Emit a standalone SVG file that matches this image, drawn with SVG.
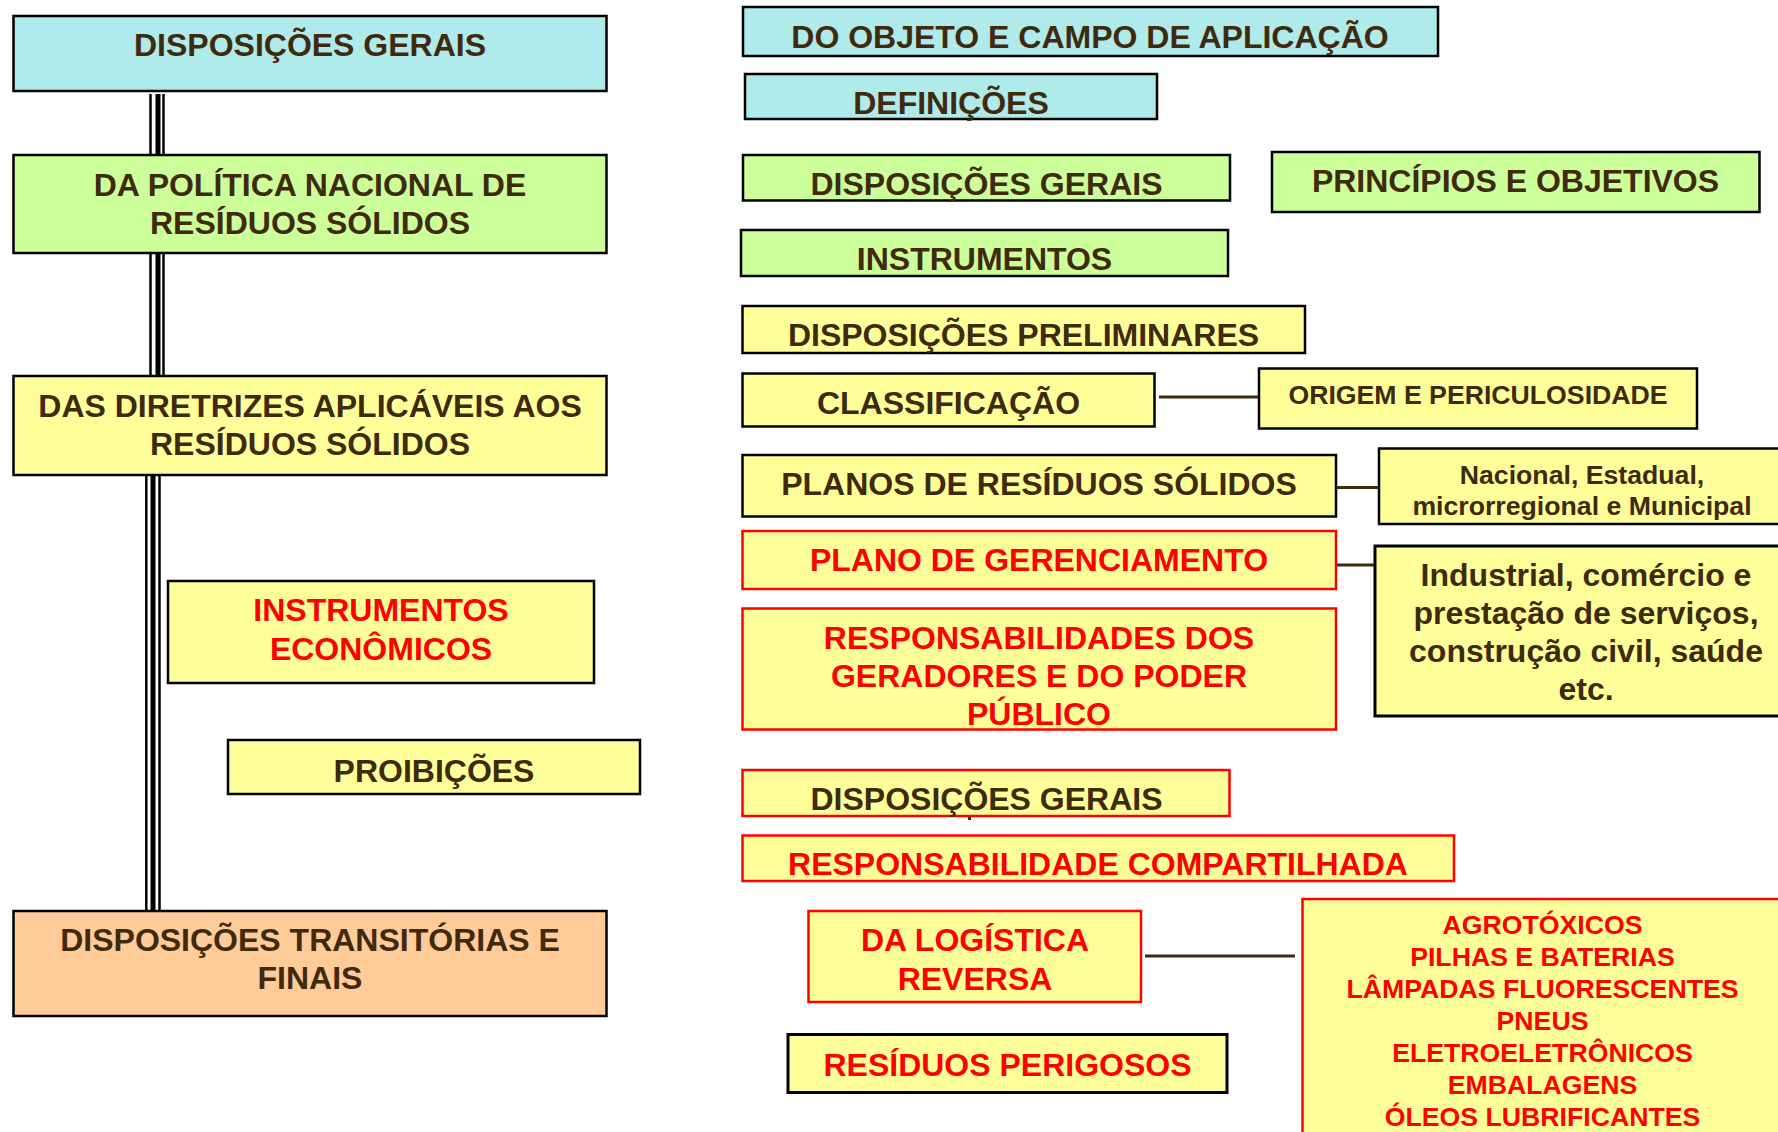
<svg xmlns="http://www.w3.org/2000/svg" width="1778" height="1132" viewBox="0 0 1778 1132">
<style>
  text { font-family: "Liberation Sans", Arial, sans-serif; font-weight: bold; font-size: 32px; text-anchor: middle; fill: #3F2A0E; }
  text.red { fill: #FF0000; }
  text.sm { font-size: 26.67px; }
  rect.box { stroke: #000000; stroke-width: 2.5; }
  rect.rb { stroke: #FF0000; }
  .cyan { fill: #B0EBEB; }
  .green { fill: #CCFF99; }
  .yellow { fill: #FFFF99; }
  .orange { fill: #FFCC99; }
  .conn { stroke: #3F2A0E; stroke-width: 3; fill: none; }
  .tl { stroke: #000000; fill: none; }
</style>
<rect x="0" y="0" width="1778" height="1132" style="fill:#FFFFFF;stroke:none"/>

<g id="connectors">
  <g id="triple-a-b">
    <line class="tl" x1="150.5" y1="94" x2="150.5" y2="155" stroke-width="2.5"/>
    <line class="tl" x1="158" y1="94" x2="158" y2="155" stroke-width="5"/>
    <line class="tl" x1="163.5" y1="94" x2="163.5" y2="155" stroke-width="2.5"/>
  </g>
  <g id="triple-b-c">
    <line class="tl" x1="150.5" y1="253" x2="150.5" y2="376" stroke-width="2.5"/>
    <line class="tl" x1="158" y1="253" x2="158" y2="376" stroke-width="5"/>
    <line class="tl" x1="163.5" y1="253" x2="163.5" y2="376" stroke-width="2.5"/>
  </g>
  <g id="triple-c-d">
    <line class="tl" x1="146.3" y1="475" x2="146.3" y2="911" stroke-width="2.5"/>
    <line class="tl" x1="153" y1="475" x2="153" y2="911" stroke-width="5"/>
    <line class="tl" x1="159.5" y1="475" x2="159.5" y2="911" stroke-width="2.5"/>
  </g>
  <line class="conn" x1="1159" y1="397" x2="1259" y2="397" stroke-width="2.5"/>
  <line class="conn" x1="1336" y1="487.5" x2="1379" y2="487.5"/>
  <line class="conn" x1="1333" y1="565" x2="1375" y2="565"/>
  <line class="conn" x1="1145" y1="956" x2="1295" y2="956"/>
  <line class="conn" x1="969.5" y1="812" x2="969.5" y2="820" stroke-width="1.5"/>
</g>

<g id="n-disposicoes-gerais">
  <rect class="box cyan" x="13.5" y="16" width="593" height="75"/>
  <text x="310" y="56">DISPOSIÇÕES GERAIS</text>
</g>
<g id="n-politica-nacional">
  <rect class="box green" x="13.5" y="155" width="593" height="98"/>
  <text x="310" y="196">DA POLÍTICA NACIONAL DE</text>
  <text x="310" y="234">RESÍDUOS SÓLIDOS</text>
</g>
<g id="n-diretrizes">
  <rect class="box yellow" x="13.5" y="376" width="593" height="99"/>
  <text x="310" y="417">DAS DIRETRIZES APLICÁVEIS AOS</text>
  <text x="310" y="455">RESÍDUOS SÓLIDOS</text>
</g>
<g id="n-instrumentos-economicos">
  <rect class="box yellow" x="168" y="581" width="426" height="102"/>
  <text class="red" x="381" y="621">INSTRUMENTOS</text>
  <text class="red" x="381" y="660">ECONÔMICOS</text>
</g>
<g id="n-proibicoes">
  <rect class="box yellow" x="228" y="740" width="412" height="54"/>
  <text x="434" y="782">PROIBIÇÕES</text>
</g>
<g id="n-transitorias">
  <rect class="box orange" x="13.5" y="911" width="593" height="105"/>
  <text x="310" y="951">DISPOSIÇÕES TRANSITÓRIAS E</text>
  <text x="310" y="989">FINAIS</text>
</g>

<g id="n-objeto">
  <rect class="box cyan" x="743" y="7" width="695" height="49"/>
  <text x="1090" y="48">DO OBJETO E CAMPO DE APLICAÇÃO</text>
</g>
<g id="n-definicoes">
  <rect class="box cyan" x="745" y="74" width="412" height="45"/>
  <text x="951" y="113.5">DEFINIÇÕES</text>
</g>
<g id="n-disp-gerais-2">
  <rect class="box green" x="743" y="155" width="487" height="45.5"/>
  <text x="986.5" y="195">DISPOSIÇÕES GERAIS</text>
</g>
<g id="n-principios">
  <rect class="box green" x="1272" y="152" width="487.5" height="60"/>
  <text x="1515.5" y="192">PRINCÍPIOS E OBJETIVOS</text>
</g>
<g id="n-instrumentos">
  <rect class="box green" x="741" y="230" width="487" height="46"/>
  <text x="984.5" y="270">INSTRUMENTOS</text>
</g>
<g id="n-preliminares">
  <rect class="box yellow" x="742.5" y="306" width="562.5" height="47"/>
  <text x="1023.5" y="346">DISPOSIÇÕES PRELIMINARES</text>
</g>
<g id="n-classificacao">
  <rect class="box yellow" x="742.5" y="373.5" width="412" height="53"/>
  <text x="948.5" y="413.5">CLASSIFICAÇÃO</text>
</g>
<g id="n-origem">
  <rect class="box yellow" x="1259" y="368.5" width="438" height="60"/>
  <text class="sm" x="1478" y="403.5">ORIGEM E PERICULOSIDADE</text>
</g>
<g id="n-planos">
  <rect class="box yellow" x="742.5" y="455" width="593.5" height="61.5" stroke-width="3"/>
  <text x="1039" y="495">PLANOS DE RESÍDUOS SÓLIDOS</text>
</g>
<g id="n-nacional">
  <rect class="box yellow" x="1379" y="448.5" width="410" height="75.5"/>
  <text class="sm" x="1582" y="483.5">Nacional, Estadual,</text>
  <text class="sm" x="1582" y="515">microrregional e Municipal</text>
</g>
<g id="n-plano-gerenciamento">
  <rect class="box yellow rb" x="742.5" y="531" width="593.5" height="58"/>
  <text class="red" x="1039" y="571">PLANO DE GERENCIAMENTO</text>
</g>
<g id="n-industrial">
  <rect class="box yellow" x="1375" y="546" width="420" height="170" style="stroke-width:3"/>
  <text x="1586" y="586">Industrial, comércio e</text>
  <text x="1586" y="624">prestação de serviços,</text>
  <text x="1586" y="662">construção civil, saúde</text>
  <text x="1586" y="700">etc.</text>
</g>
<g id="n-responsabilidades">
  <rect class="box yellow rb" x="742.5" y="608.5" width="593.5" height="121"/>
  <text class="red" x="1039" y="648.5">RESPONSABILIDADES DOS</text>
  <text class="red" x="1039" y="687">GERADORES E DO PODER</text>
  <text class="red" x="1039" y="725">PÚBLICO</text>
</g>
<g id="n-disp-gerais-3">
  <rect class="box yellow rb" x="742.5" y="770" width="487" height="46"/>
  <text x="986.5" y="810">DISPOSIÇÕES GERAIS</text>
</g>
<g id="n-compartilhada">
  <rect class="box yellow rb" x="742.5" y="835.5" width="711.5" height="45.5"/>
  <text class="red" x="1098" y="875">RESPONSABILIDADE COMPARTILHADA</text>
</g>
<g id="n-logistica">
  <rect class="box yellow rb" x="808.5" y="911" width="332.5" height="91"/>
  <text class="red" x="975" y="951">DA LOGÍSTICA</text>
  <text class="red" x="975" y="989.5">REVERSA</text>
</g>
<g id="n-perigosos">
  <rect class="box yellow" x="788" y="1034.5" width="439" height="58" style="stroke-width:3"/>
  <text class="red" x="1007.5" y="1075.5">RESÍDUOS PERIGOSOS</text>
</g>
<g id="n-lista">
  <rect class="box yellow rb" x="1302.5" y="899" width="490" height="260"/>
  <text class="red sm" x="1542.5" y="934">AGROTÓXICOS</text>
  <text class="red sm" x="1542.5" y="966">PILHAS E BATERIAS</text>
  <text class="red sm" x="1542.5" y="998">LÂMPADAS FLUORESCENTES</text>
  <text class="red sm" x="1542.5" y="1030">PNEUS</text>
  <text class="red sm" x="1542.5" y="1062">ELETROELETRÔNICOS</text>
  <text class="red sm" x="1542.5" y="1094">EMBALAGENS</text>
  <text class="red sm" x="1542.5" y="1126">ÓLEOS LUBRIFICANTES</text>
</g>
</svg>
